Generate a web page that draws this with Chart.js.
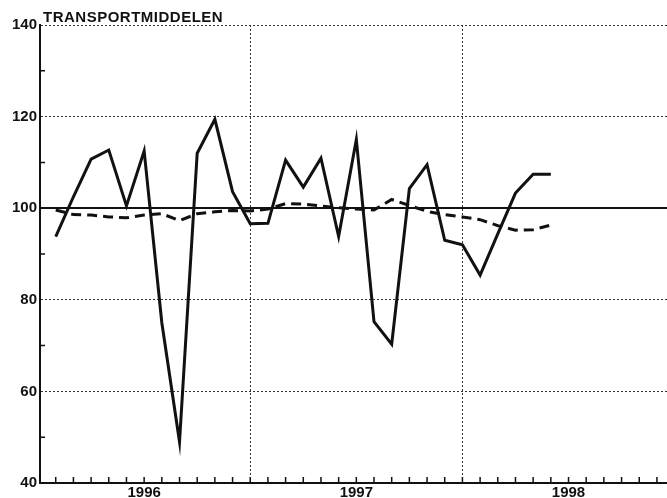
<!DOCTYPE html>
<html>
<head>
<meta charset="utf-8">
<script src="https://cdn.jsdelivr.net/npm/chart.js@4.4.0/dist/chart.umd.min.js"></script>
<style>
  html, body { margin: 0; padding: 0; background: #fff; }
</style>
</head>
<body>
<canvas id="chart" width="667" height="498"></canvas>
<script>
// titel + assen
const title = 'TRANSPORTMIDDELEN';
const yearLabels = ['1996', '1997', '1998'];
const yTicks = [40, 60, 80, 100, 120, 140];

// maanden van de waarnemingen (jan 1996 = 0 op de x-as)
const months = [
    '1996-02', '1996-03', '1996-04', '1996-05', '1996-06', '1996-07', '1996-08', '1996-09', '1996-10', '1996-11', '1996-12',
    '1997-01', '1997-02', '1997-03', '1997-04', '1997-05', '1997-06', '1997-07', '1997-08', '1997-09', '1997-10', '1997-11', '1997-12',
    '1998-01', '1998-02', '1998-03', '1998-04', '1998-05', '1998-06'
];
// doorgetrokken lijn
const serieSolid = [
    93.8, 102.5, 110.7, 112.7, 100.5, 112.5, 75.0, 49.0, 112.0, 119.4, 103.6,
    96.6, 96.7, 110.5, 104.6, 110.9, 93.8, 115.0, 75.2, 70.3, 104.3, 109.5, 93.0,
    92.0, 85.4, 94.4, 103.3, 107.4, 107.4
];
// gestippelde lijn (trend)
const serieDashed = [
    99.6, 98.6, 98.5, 98.1, 97.9, 98.5, 98.8, 97.3, 98.8, 99.2, 99.5,
    99.4, 99.8, 101.0, 100.9, 100.5, 100.1, 99.8, 99.6, 101.9, 100.6, 99.3, 98.6,
    98.1, 97.5, 96.2, 95.2, 95.3, 96.3
];

function monthIndex(m) {
    const [y, mo] = m.split('-').map(Number);
    return (y - 1996) * 12 + mo - 1;
}

const FONT = '"Liberation Sans", Arial, sans-serif';
const INK = '#111';
const NONE = 'rgba(0,0,0,0)';

// kleine streepjes op de assen + titel
const extras = {
    id: 'extras',
    afterDatasetsDraw(chart) {
        const { ctx, chartArea, scales } = chart;
        ctx.save();
        ctx.strokeStyle = INK;
        ctx.lineWidth = 1.5;
        ctx.beginPath();
        for (let m = 1; m < 36; m++) {
            const x = scales.x.getPixelForValue(m);
            if (x > chartArea.right) break;
            ctx.moveTo(x, chartArea.bottom);
            ctx.lineTo(x, chartArea.bottom - 6);
        }
        for (let v = 50; v < 140; v += 20) {
            const y = scales.y.getPixelForValue(v);
            ctx.moveTo(chartArea.left, y);
            ctx.lineTo(chartArea.left + 5, y);
        }
        ctx.stroke();

        ctx.fillStyle = INK;
        ctx.font = 'bold 15px ' + FONT;
        ctx.letterSpacing = '0.5px';
        ctx.textBaseline = 'alphabetic';
        ctx.fillText(title, chartArea.left + 3, 22);
        ctx.restore();
    }
};

new Chart(document.getElementById('chart'), {
    type: 'line',
    data: {
        datasets: [
            {
                data: months.map((m, i) => ({ x: monthIndex(m), y: serieSolid[i] })),
                borderColor: INK,
                borderWidth: 3,
                pointRadius: 0,
                tension: 0
            },
            {
                data: months.map((m, i) => ({ x: monthIndex(m), y: serieDashed[i] })),
                borderColor: INK,
                borderWidth: 3,
                borderDash: [10, 6],
                pointRadius: 0,
                tension: 0
            }
        ]
    },
    options: {
        responsive: false,
        animation: false,
        layout: { padding: { top: 25, right: 0, left: 0, bottom: 0 } },
        plugins: { legend: { display: false }, tooltip: { enabled: false } },
        scales: {
            x: {
                type: 'linear',
                min: 0.11,
                max: 35.57,
                afterBuildTicks: s => { s.ticks = [6, 12, 18, 24, 30].map(v => ({ value: v })); },
                afterFit: s => { s.height = 15; },
                ticks: {
                    autoSkip: false,
                    maxRotation: 0,
                    minRotation: 0,
                    padding: 1,
                    color: INK,
                    font: { family: FONT, size: 15, weight: 'bold' },
                    callback: v => (v % 12 === 6 ? yearLabels[(v - 6) / 12] : '')
                },
                grid: {
                    drawTicks: false,
                    lineWidth: 1,
                    color: c => (c.tick && (c.tick.value === 12 || c.tick.value === 24) ? '#333' : NONE)
                },
                border: { display: true, color: INK, width: 2, dash: c => (c.tick ? [2, 2] : []) }
            },
            y: {
                min: 40,
                max: 140,
                afterBuildTicks: s => { s.ticks = yTicks.map(v => ({ value: v })); },
                afterFit: s => { s.width = 40; },
                ticks: {
                    padding: 3,
                    color: INK,
                    font: { family: FONT, size: 15, weight: 'bold' }
                },
                grid: {
                    drawTicks: false,
                    lineWidth: c => (c.tick && c.tick.value === 100 ? 2 : 1),
                    color: c => {
                        if (!c.tick || c.tick.value === 40) return NONE;
                        return c.tick.value === 100 ? INK : '#333';
                    }
                },
                border: { display: true, color: INK, width: 2, dash: c => (c.tick && c.tick.value !== 100 ? [2, 2] : []) }
            }
        }
    },
    plugins: [extras]
});
</script>
</body>
</html>
